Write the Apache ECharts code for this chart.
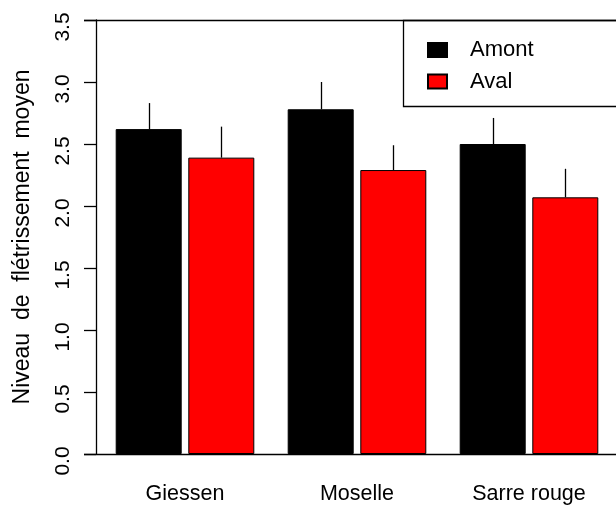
<!DOCTYPE html>
<html>
<head>
<meta charset="utf-8">
<script src="https://cdn.jsdelivr.net/npm/echarts@6/dist/echarts.min.js"></script>
<style>
html,body{margin:0;padding:0;background:#fff;}
#chart{width:616px;height:505px;}
</style>
</head>
<body>
<div id="chart"></div>
<script>
// ---- data ----
const categories = ['Giessen', 'Moselle', 'Sarre rouge'];
const seriesNames = ['Amont', 'Aval'];
const amont = [2.62, 2.78, 2.50];
const aval = [2.39, 2.29, 2.07];
const amontErr = [0.21, 0.22, 0.21];
const avalErr = [0.25, 0.20, 0.23];
const yTicks = [0, 0.5, 1, 1.5, 2, 2.5, 3, 3.5];
const yTitle = 'Niveau  de  flétrissement  moyen';

// ---- style ----
const FONT = '"Liberation Sans", Arial, Helvetica, sans-serif';
const BAR_W = 66;
const BAR_GAP = 0.1;
const colors = ['#000000', '#ff0000'];
const Y_MIN = yTicks[0], Y_MAX = yTicks[yTicks.length - 1];

const chart = echarts.init(document.getElementById('chart'), null, {renderer: 'canvas'});

function errSeries(vals, errs, idx) {
  const offset = (idx === 0 ? -1 : 1) * BAR_W * (1 + BAR_GAP) / 2;
  return {
    type: 'custom',
    name: seriesNames[idx] + ' err',
    silent: true,
    z: 1,
    data: vals.map((v, i) => [i, v, errs[i]]),
    renderItem: function (params, api) {
      const p0 = api.coord([api.value(0), api.value(1)]);
      const p1 = api.coord([api.value(0), api.value(1) + api.value(2)]);
      const x = Math.round(p0[0] + offset) + 0.5;
      return {
        type: 'line',
        shape: {x1: x, y1: p0[1], x2: x, y2: p1[1]},
        style: {stroke: '#000', lineWidth: 1.3}
      };
    }
  };
}

const option = {
  animation: false,
  backgroundColor: '#fff',
  grid: {left: 99, top: 20, width: 516, bottom: 51, containLabel: false},
  legend: {
    data: seriesNames,
    orient: 'vertical',
    left: 427,
    top: 39,
    padding: 0,
    itemWidth: 19,
    itemHeight: 14,
    itemGap: 9.5,
    icon: 'rect',
    textStyle: {fontFamily: FONT, fontSize: 22, color: '#000', lineHeight: 20, padding: [0, 0, 0, 18]}
  },
  graphic: [{
    type: 'rect',
    shape: {x: 403.5, y: 20.5, width: 260, height: 86},
    style: {fill: 'rgba(0,0,0,0)', stroke: '#000', lineWidth: 1.3},
    z: 0
  }],
  xAxis: {
    type: 'category',
    data: categories,
    position: 'bottom',
    axisLine: {show: false},
    axisTick: {show: false},
    axisLabel: {fontFamily: FONT, fontSize: 21.5, color: '#000', margin: 29}
  },
  yAxis: {
    type: 'value',
    min: Y_MIN,
    max: Y_MAX,
    interval: 0.5,
    offset: 3,
    name: yTitle,
    nameLocation: 'middle',
    nameRotate: 90,
    nameGap: 62,
    nameTextStyle: {fontFamily: FONT, fontSize: 23, color: '#000'},
    axisLine: {show: true, lineStyle: {color: '#000', width: 1.3}},
    axisTick: {show: true, length: 12, lineStyle: {color: '#000', width: 1.3}},
    splitLine: {show: false},
    axisLabel: {
      fontFamily: FONT, fontSize: 21, color: '#000', rotate: 90, margin: 22,
      padding: [0, 14, 0, 0],
      formatter: v => yTicks.indexOf(v) >= 0 ? v.toFixed(1) : ''
    }
  },
  series: [
    {
      name: seriesNames[0], type: 'bar', data: amont, barWidth: BAR_W, barGap: (BAR_GAP * 100) + '%',
      itemStyle: {color: colors[0], borderColor: '#000', borderWidth: 1}, z: 2
    },
    {
      name: seriesNames[1], type: 'bar', data: aval, barWidth: BAR_W, barGap: (BAR_GAP * 100) + '%',
      itemStyle: {color: colors[1], borderColor: '#000', borderWidth: 1}, z: 2
    },
    errSeries(amont, amontErr, 0),
    errSeries(aval, avalErr, 1)
  ]
};
chart.setOption(option);

// horizontal lines at the axis limits, positioned through the library's y scale
const yLow = chart.convertToPixel({yAxisIndex: 0}, Y_MIN);
const yHigh = chart.convertToPixel({yAxisIndex: 0}, Y_MAX);
chart.setOption({
  graphic: [
    option.graphic[0],
    {type: 'line', z: 5, shape: {x1: 84, y1: Math.round(yLow) + 0.5, x2: 616, y2: Math.round(yLow) + 0.5},
     style: {stroke: '#000', lineWidth: 1.3}},
    {type: 'line', z: 5, shape: {x1: 84, y1: Math.round(yHigh) + 0.5, x2: 616, y2: Math.round(yHigh) + 0.5},
     style: {stroke: '#000', lineWidth: 1.3}}
  ]
});
</script>
</body>
</html>
